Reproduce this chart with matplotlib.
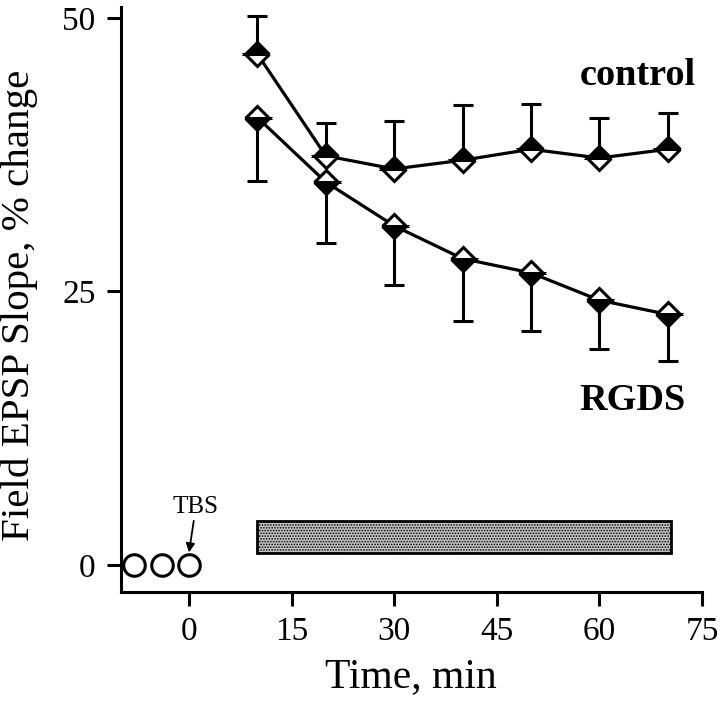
import numpy as np
import matplotlib
matplotlib.use('Agg')
import matplotlib.pyplot as plt
from matplotlib.patches import Rectangle

plt.rcParams['font.family'] = ['Liberation Serif', 'DejaVu Serif']
plt.rcParams['hatch.linewidth'] = 0.8
plt.rcParams['hatch.color'] = '#444444'

# data
time = [10, 20, 30, 40, 50, 60, 70]
control_mean = [46.7, 37.4, 36.2, 37.0, 38.0, 37.2, 38.0]
control_sem = [3.5, 3.0, 4.4, 5.0, 4.1, 3.7, 3.3]
rgds_mean = [40.9, 35.0, 31.0, 28.0, 26.7, 24.2, 22.9]
rgds_sem = [5.8, 5.6, 5.4, 5.7, 5.3, 4.5, 4.3]
baseline_time = [-8, -4, 0]
baseline_val = [0, 0, 0]
drug_start, drug_end = 10, 70.5
drug_low, drug_high = 1.1, 4.05

fig = plt.figure(figsize=(7.2, 7.04), dpi=100)
ax = fig.add_axes([0.1675, 0.1591, 0.975 - 0.1675, 0.990 - 0.1591])

zeros = np.zeros(len(time))
# one sided error bars: control up, RGDS down
ax.errorbar(time, control_mean, yerr=[zeros, control_sem], fmt='none',
            ecolor='black', elinewidth=2.2, capsize=7.5, capthick=2.2, zorder=2)
ax.errorbar(time, rgds_mean, yerr=[rgds_sem, zeros], fmt='none',
            ecolor='black', elinewidth=2.2, capsize=7.5, capthick=2.2, zorder=2)

ax.plot(time, control_mean, color='black', lw=2.3, marker='D', ms=12,
        mew=2.2, mec='black', mfc='black', fillstyle='top',
        markerfacecoloralt='white', zorder=3)
ax.plot(time, rgds_mean, color='black', lw=2.3, marker='D', ms=12,
        mew=2.2, mec='black', mfc='black', fillstyle='bottom',
        markerfacecoloralt='white', zorder=3)

ax.plot(baseline_time, baseline_val, ls='none', marker='o', ms=15.5,
        mew=2.2, mec='black', mfc='white', zorder=3, clip_on=False)

# drug application bar
ax.add_patch(Rectangle((drug_start, drug_low), drug_end - drug_start,
                       drug_high - drug_low, facecolor='#c4c4c4',
                       edgecolor='black', lw=2, hatch='......', zorder=2))

ax.annotate('TBS', xy=(0, 1.15), xytext=(1, 4.75), ha='center', va='baseline',
            fontsize=18,
            arrowprops=dict(arrowstyle='-|>', color='black', lw=1.3,
                            mutation_scale=13, shrinkA=0, shrinkB=0))

ax.text(65.6, 43.9, 'control', fontsize=27.5, fontweight='bold',
        ha='center', va='baseline')
ax.text(64.8, 14.2, 'RGDS', fontsize=27.5, fontweight='bold',
        ha='center', va='baseline')

ax.set_xlim(-10, 75)
ax.set_ylim(-2.47, 51)
ax.set_xticks([0, 15, 30, 45, 60, 75])
ax.set_yticks([0, 25, 50])

for side in ['top', 'right']:
    ax.spines[side].set_visible(False)
for side in ['left', 'bottom']:
    ax.spines[side].set_linewidth(2.2)

ax.tick_params(axis='y', direction='out', length=10, width=2.2,
               labelsize=24, pad=8)
ax.tick_params(axis='x', direction='out', length=10, width=2.2,
               labelsize=24, pad=8)

ax.set_xlabel('Time, min', fontsize=30)
ax.set_ylabel('Field EPSP Slope, % change', fontsize=29.5)
ax.xaxis.set_label_coords(0.5, -0.112)
ax.yaxis.set_label_coords(-0.142, 0.49)

fig.savefig('out.png', dpi=100)
